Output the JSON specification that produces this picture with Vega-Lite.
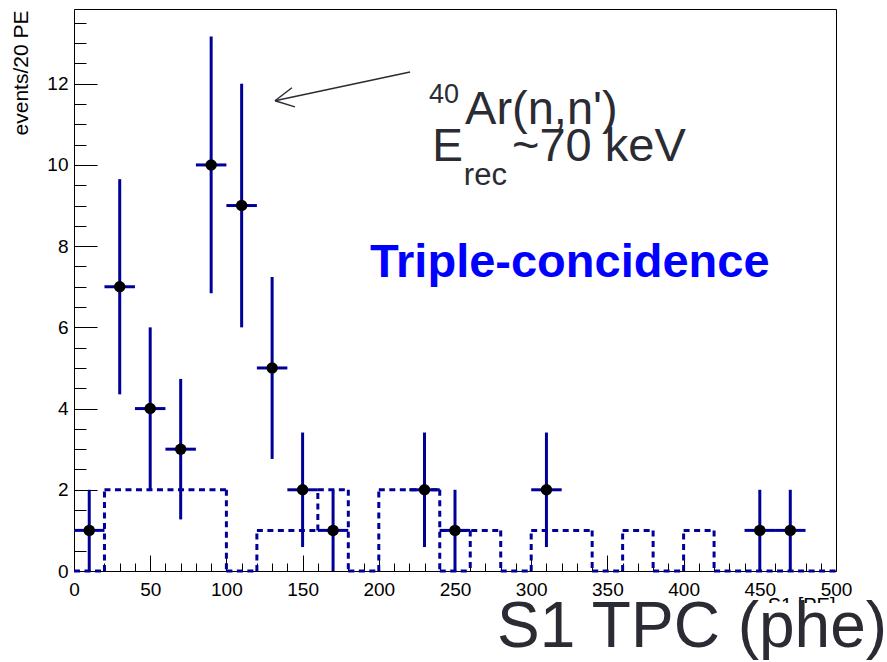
{
  "$schema": "https://vega.github.io/schema/vega-lite/v6.json",
  "width": 762,
  "height": 562,
  "autosize": {"type": "none"},
  "padding": {"left": 74, "top": 9, "right": 51, "bottom": 91},
  "background": "white",
  "config": {
    "view": {"stroke": "black", "strokeWidth": 1},
    "font": "Liberation Sans",
    "text": {"font": "Liberation Sans"}
  },
  "resolve": {"axis": {"x": "independent", "y": "independent"}},
  "datasets": {
    "points": [
      {"s1": 10, "events": 1, "lo": 0, "hi": 2, "binlo": 0, "binhi": 20},
      {"s1": 30, "events": 7, "lo": 4.35, "hi": 9.65, "binlo": 20, "binhi": 40},
      {"s1": 50, "events": 4, "lo": 2, "hi": 6, "binlo": 40, "binhi": 60},
      {"s1": 70, "events": 3, "lo": 1.27, "hi": 4.73, "binlo": 60, "binhi": 80},
      {"s1": 90, "events": 10, "lo": 6.84, "hi": 13.16, "binlo": 80, "binhi": 100},
      {"s1": 110, "events": 9, "lo": 6, "hi": 12, "binlo": 100, "binhi": 120},
      {"s1": 130, "events": 5, "lo": 2.76, "hi": 7.24, "binlo": 120, "binhi": 140},
      {"s1": 150, "events": 2, "lo": 0.59, "hi": 3.41, "binlo": 140, "binhi": 160},
      {"s1": 170, "events": 1, "lo": 0, "hi": 2, "binlo": 160, "binhi": 180},
      {"s1": 230, "events": 2, "lo": 0.59, "hi": 3.41, "binlo": 220, "binhi": 240},
      {"s1": 250, "events": 1, "lo": 0, "hi": 2, "binlo": 240, "binhi": 260},
      {"s1": 310, "events": 2, "lo": 0.59, "hi": 3.41, "binlo": 300, "binhi": 320},
      {"s1": 450, "events": 1, "lo": 0, "hi": 2, "binlo": 440, "binhi": 460},
      {"s1": 470, "events": 1, "lo": 0, "hi": 2, "binlo": 460, "binhi": 480}
    ],
    "background": [
      {"a": 0, "b": 20, "c": 0, "d": 0},
      {"a": 20, "b": 20, "c": 0, "d": 2},
      {"a": 20, "b": 100, "c": 2, "d": 2},
      {"a": 100, "b": 100, "c": 2, "d": 0},
      {"a": 100, "b": 120, "c": 0, "d": 0},
      {"a": 120, "b": 120, "c": 0, "d": 1},
      {"a": 120, "b": 160, "c": 1, "d": 1},
      {"a": 160, "b": 160, "c": 1, "d": 2},
      {"a": 160, "b": 180, "c": 2, "d": 2},
      {"a": 180, "b": 180, "c": 2, "d": 0},
      {"a": 180, "b": 200, "c": 0, "d": 0},
      {"a": 200, "b": 200, "c": 0, "d": 2},
      {"a": 200, "b": 240, "c": 2, "d": 2},
      {"a": 240, "b": 240, "c": 2, "d": 0},
      {"a": 240, "b": 260, "c": 0, "d": 0},
      {"a": 240, "b": 280, "c": 1, "d": 1},
      {"a": 260, "b": 260, "c": 1, "d": 0},
      {"a": 280, "b": 280, "c": 1, "d": 0},
      {"a": 280, "b": 300, "c": 0, "d": 0},
      {"a": 300, "b": 300, "c": 0, "d": 1},
      {"a": 300, "b": 340, "c": 1, "d": 1},
      {"a": 340, "b": 340, "c": 1, "d": 0},
      {"a": 340, "b": 360, "c": 0, "d": 0},
      {"a": 360, "b": 360, "c": 0, "d": 1},
      {"a": 360, "b": 380, "c": 1, "d": 1},
      {"a": 380, "b": 380, "c": 1, "d": 0},
      {"a": 380, "b": 400, "c": 0, "d": 0},
      {"a": 400, "b": 400, "c": 0, "d": 1},
      {"a": 400, "b": 420, "c": 1, "d": 1},
      {"a": 420, "b": 420, "c": 1, "d": 0},
      {"a": 420, "b": 500, "c": 0, "d": 0}
    ],
    "one": [{}]
  },
  "layer": [
    {
      "data": {"name": "background"},
      "mark": {"type": "rule", "color": "#000099", "strokeWidth": 3, "strokeDash": [6, 4.5]},
      "encoding": {
        "x": {
          "field": "a", "type": "quantitative",
          "scale": {"domain": [0, 500], "nice": false, "zero": false},
          "axis": {
            "orient": "bottom",
            "values": [0, 50, 100, 150, 200, 250, 300, 350, 400, 450, 500],
            "tickSize": -16,
            "tickColor": "black",
            "tickWidth": 1,
            "domain": false,
            "grid": false,
            "labelFlush": false,
            "labelOverlap": false,
            "labelFontSize": 19,
            "labelColor": "black",
            "labelPadding": 25,
            "title": "S1    [PE]",
            "titleFontSize": 20,
            "titleFontWeight": "normal",
            "titleColor": "black",
            "titleX": 761,
            "titleY": 24,
            "titleAlign": "right",
            "titleBaseline": "top"
          }
        },
        "x2": {"field": "b"},
        "y": {
          "field": "c", "type": "quantitative",
          "scale": {"domain": [0, 13.84], "nice": false, "zero": false},
          "axis": {
            "orient": "left",
            "values": [0, 2, 4, 6, 8, 10, 12],
            "tickSize": -23,
            "tickColor": "black",
            "tickWidth": 1,
            "domain": false,
            "grid": false,
            "labelFlush": false,
            "labelOverlap": false,
            "labelFontSize": 19,
            "labelColor": "black",
            "labelPadding": 29,
            "title": "events/20 PE",
            "titleFontSize": 21,
            "titleFontWeight": "normal",
            "titleColor": "black",
            "titleX": -47,
            "titleY": 1,
            "titleAngle": 270,
            "titleAlign": "right",
            "titleBaseline": "alphabetic"
          }
        },
        "y2": {"field": "d"}
      }
    },
    {
      "data": {"name": "points"},
      "mark": {"type": "rule", "color": "#000099", "strokeWidth": 3},
      "encoding": {
        "x": {
          "field": "s1", "type": "quantitative",
          "axis": {
            "orient": "bottom",
            "values": [10,20,30,40,60,70,80,90,110,120,130,140,160,170,180,190,210,220,230,240,260,270,280,290,310,320,330,340,360,370,380,390,410,420,430,440,460,470,480,490],
            "tickSize": -8,
            "tickColor": "black",
            "tickWidth": 1,
            "domain": false,
            "grid": false,
            "labels": false,
            "title": null
          }
        },
        "y": {
          "field": "lo", "type": "quantitative",
          "axis": {
            "orient": "left",
            "values": [0.5,1,1.5,2.5,3,3.5,4.5,5,5.5,6.5,7,7.5,8.5,9,9.5,10.5,11,11.5,12.5,13,13.5],
            "tickSize": -12,
            "tickColor": "black",
            "tickWidth": 1,
            "domain": false,
            "grid": false,
            "labels": false,
            "title": null
          }
        },
        "y2": {"field": "hi"}
      }
    },
    {
      "data": {"name": "points"},
      "mark": {"type": "rule", "color": "#000099", "strokeWidth": 3},
      "encoding": {
        "x": {"field": "binlo", "type": "quantitative", "axis": null},
        "x2": {"field": "binhi"},
        "y": {"field": "events", "type": "quantitative", "axis": null}
      }
    },
    {
      "data": {"name": "points"},
      "mark": {"type": "point", "shape": "circle", "filled": true, "color": "black", "opacity": 1, "size": 130},
      "encoding": {
        "x": {"field": "s1", "type": "quantitative", "axis": null},
        "y": {"field": "events", "type": "quantitative", "axis": null}
      }
    },
    {
      "data": {"name": "one"},
      "mark": {"type": "rule", "color": "#2b2b33", "strokeWidth": 1.5},
      "encoding": {
        "x": {"datum": 220.5, "type": "quantitative", "axis": null},
        "y": {"datum": 12.29, "type": "quantitative", "axis": null},
        "x2": {"datum": 131.9},
        "y2": {"datum": 11.58}
      }
    },
    {
      "data": {"name": "one"},
      "mark": {"type": "rule", "color": "#2b2b33", "strokeWidth": 1.5},
      "encoding": {
        "x": {"datum": 143.0, "type": "quantitative", "axis": null},
        "y": {"datum": 11.9, "type": "quantitative", "axis": null},
        "x2": {"datum": 131.9},
        "y2": {"datum": 11.58}
      }
    },
    {
      "data": {"name": "one"},
      "mark": {"type": "rule", "color": "#2b2b33", "strokeWidth": 1.5},
      "encoding": {
        "x": {"datum": 145.0, "type": "quantitative", "axis": null},
        "y": {"datum": 11.43, "type": "quantitative", "axis": null},
        "x2": {"datum": 131.9},
        "y2": {"datum": 11.58}
      }
    },
    {
      "data": {"name": "one"},
      "mark": {"type": "text", "align": "left", "baseline": "alphabetic", "fontSize": 27, "color": "#2b2b33"},
      "encoding": {
        "x": {"datum": 232.9, "type": "quantitative", "axis": null},
        "y": {"datum": 11.53, "type": "quantitative", "axis": null},
        "text": {"value": "40"}
      }
    },
    {
      "data": {"name": "one"},
      "mark": {"type": "text", "align": "left", "baseline": "alphabetic", "fontSize": 47, "color": "#2b2b33"},
      "encoding": {
        "x": {"datum": 256.6, "type": "quantitative", "axis": null},
        "y": {"datum": 11.0, "type": "quantitative", "axis": null},
        "text": {"value": "Ar(n,n')"}
      }
    },
    {
      "data": {"name": "one"},
      "mark": {"type": "text", "align": "left", "baseline": "alphabetic", "fontSize": 46, "color": "#2b2b33"},
      "encoding": {
        "x": {"datum": 235.0, "type": "quantitative", "axis": null},
        "y": {"datum": 10.1, "type": "quantitative", "axis": null},
        "text": {"value": "E"}
      }
    },
    {
      "data": {"name": "one"},
      "mark": {"type": "text", "align": "left", "baseline": "alphabetic", "fontSize": 31, "color": "#2b2b33"},
      "encoding": {
        "x": {"datum": 255.8, "type": "quantitative", "axis": null},
        "y": {"datum": 9.51, "type": "quantitative", "axis": null},
        "text": {"value": "rec"}
      }
    },
    {
      "data": {"name": "one"},
      "mark": {"type": "text", "align": "left", "baseline": "alphabetic", "fontSize": 47, "color": "#2b2b33"},
      "encoding": {
        "x": {"datum": 287.4, "type": "quantitative", "axis": null},
        "y": {"datum": 10.1, "type": "quantitative", "axis": null},
        "text": {"value": "~70 keV"}
      }
    },
    {
      "data": {"name": "one"},
      "mark": {"type": "text", "align": "left", "baseline": "alphabetic", "fontSize": 47, "fontWeight": "bold", "color": "#0000ff"},
      "encoding": {
        "x": {"datum": 194.2, "type": "quantitative", "axis": null},
        "y": {"datum": 7.24, "type": "quantitative", "axis": null},
        "text": {"value": "Triple-concidence"}
      }
    },
    {
      "data": {"name": "one"},
      "mark": {"type": "rect", "color": "white", "opacity": 1},
      "encoding": {
        "x": {"datum": 277, "type": "quantitative", "axis": null},
        "x2": {"datum": 540},
        "y": {"datum": -0.79, "type": "quantitative", "axis": null},
        "y2": {"datum": -2.3}
      }
    },
    {
      "data": {"name": "one"},
      "mark": {"type": "text", "align": "right", "baseline": "alphabetic", "fontSize": 64, "color": "#2b2b33"},
      "encoding": {
        "x": {"datum": 533.5, "type": "quantitative", "axis": null},
        "y": {"datum": -1.87, "type": "quantitative", "axis": null},
        "text": {"value": "S1 TPC (phe)"}
      }
    }
  ]
}
